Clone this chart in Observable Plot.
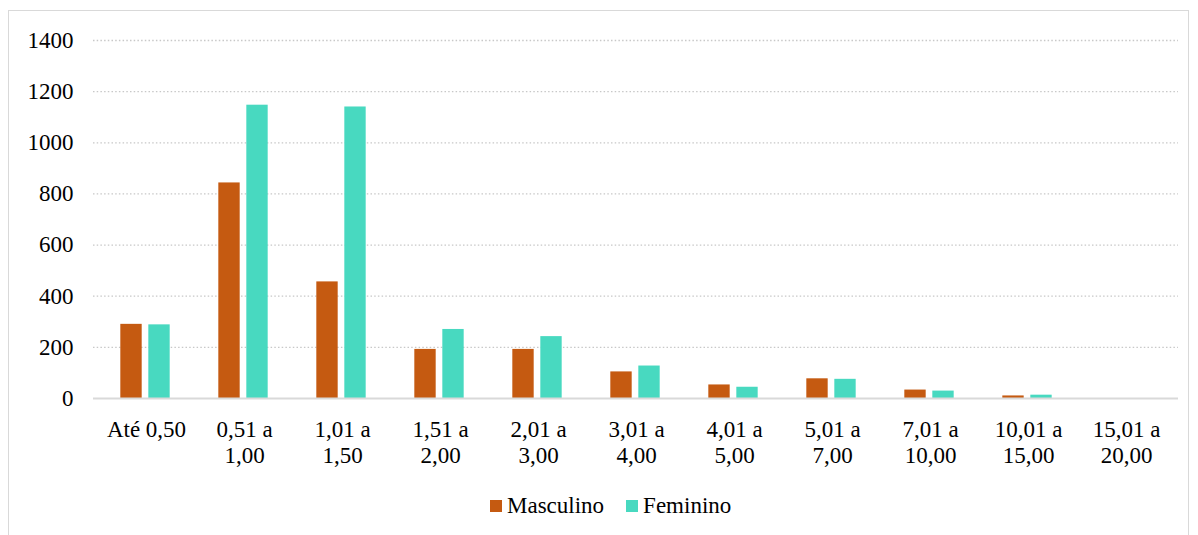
<!DOCTYPE html>
<html>
<head>
<meta charset="utf-8">
<script src="https://cdn.jsdelivr.net/npm/d3@7"></script>
<script src="https://cdn.jsdelivr.net/npm/@observablehq/plot@0.6"></script>
<style>
  body { margin: 0; background: #fff; font-family: "Liberation Serif", "Times New Roman", serif; }
  #frame { position: absolute; left: 8px; top: 10px; width: 1181px; height: 560px; border: 1px solid #d9d9d9; box-sizing: border-box; overflow: hidden; }
  #chart { position: absolute; left: 0; top: 0; }
  #legend { position: absolute; top: 481px; left: 481px; font-size: 23px; color: #000; white-space: nowrap; }
  #legend span.item { display: inline-flex; align-items: center; margin-right: 22px; }
  #legend span.sw { display: inline-block; width: 12px; height: 12px; margin-right: 5px; }
</style>
</head>
<body>
<div id="frame">
  <div id="chart"></div>
  <div id="legend"></div>
</div>
<script>
const categories = ["Até 0,50", "0,51 a\n1,00", "1,01 a\n1,50", "1,51 a\n2,00", "2,01 a\n3,00", "3,01 a\n4,00", "4,01 a\n5,00", "5,01 a\n7,00", "7,01 a\n10,00", "10,01 a\n15,00", "15,01 a\n20,00"];
const masculino = [290, 843, 456, 192, 192, 104, 53, 77, 33, 10, 0];
const feminino = [288, 1147, 1140, 270, 242, 127, 44, 75, 29, 13, 0];
const seriesNames = ["Masculino", "Feminino"];
const colors = ["#C55A11", "#48D9C0"];
const yTicks = [0, 200, 400, 600, 800, 1000, 1200, 1400];

const data = [];
categories.forEach((c, i) => {
  data.push({cat: c, sex: seriesNames[0], v: masculino[i]});
  data.push({cat: c, sex: seriesNames[1], v: feminino[i]});
});

const W = 1179, H = 467;
const mL = 84, mR = 10;
const step = (W - mL - mR) / categories.length;
const barW = 22, gap = 6;
const outer = (step - 2 * barW - gap) / 2 - 1;

const chart = Plot.plot({
  width: W,
  height: H,
  marginLeft: mL,
  marginRight: mR,
  marginTop: 29,
  marginBottom: 80,
  style: { fontFamily: "'Liberation Serif', 'Times New Roman', serif", fontSize: "23px", color: "#000", background: "transparent" },
  x: { domain: categories, padding: 0, label: null },
  y: { domain: [0, 1400], label: null },
  marks: [
    Plot.ruleY(yTicks.filter(d => d > 0), { stroke: "#c8c8c8", strokeWidth: 1.3, strokeDasharray: "1.5,2.2" }),
    Plot.barY(data.filter(d => d.sex === "Masculino"), { x: "cat", y: "v", fill: colors[0], insetLeft: outer, insetRight: outer + barW + gap + 2 }),
    Plot.barY(data.filter(d => d.sex === "Feminino"), { x: "cat", y: "v", fill: colors[1], insetLeft: outer + barW + gap, insetRight: outer + 2 }),
    Plot.ruleY([0], { stroke: "#d9d9d9", strokeWidth: 2 }),
    Plot.axisY({ ticks: yTicks, tickFormat: d => String(d), tickSize: 0, tickPadding: 20, label: null, fontSize: 23 }),
    Plot.axisX({ tickSize: 0, tickPadding: 20, label: null, fontSize: 23, lineHeight: 1.13 })
  ]
});
document.getElementById("chart").appendChild(chart);

const legend = document.getElementById("legend");
seriesNames.forEach((n, i) => {
  const item = document.createElement("span");
  item.className = "item";
  const sw = document.createElement("span");
  sw.className = "sw";
  sw.style.background = colors[i];
  item.appendChild(sw);
  item.appendChild(document.createTextNode(n));
  legend.appendChild(item);
});
</script>
</body>
</html>
